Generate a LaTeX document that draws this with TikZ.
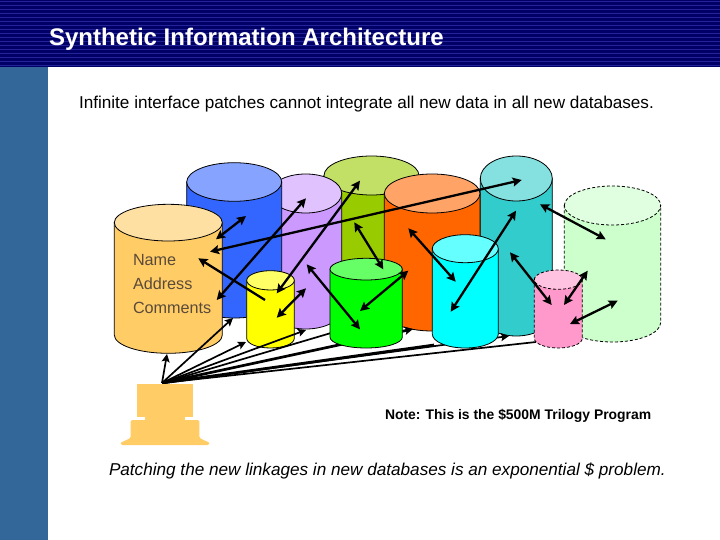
\documentclass[tikz,border=0pt]{standalone}
\usepackage{fontspec}
\setmainfont{Liberation Sans}
\usetikzlibrary{arrows.meta}
\definecolor{navy}{HTML}{000066}
\definecolor{stripe}{HTML}{24249A}
\definecolor{band}{HTML}{336699}
\definecolor{labelbrown}{HTML}{5A4A3A}
\definecolor{tanbody}{HTML}{FFCC66}\definecolor{tantop}{HTML}{FFE0A3}
\definecolor{bluebody}{HTML}{3366FF}\definecolor{bluetop}{HTML}{85A3FF}
\definecolor{purpbody}{HTML}{CC99FF}\definecolor{purptop}{HTML}{E0C2FF}
\definecolor{olivebody}{HTML}{99CC00}\definecolor{olivetop}{HTML}{C2E066}
\definecolor{orangebody}{HTML}{FF6600}\definecolor{orangetop}{HTML}{FFA366}
\definecolor{tealbody}{HTML}{33CCCC}\definecolor{tealtop}{HTML}{85E0E0}
\definecolor{palebody}{HTML}{CCFFCC}\definecolor{paletop}{HTML}{E0FFE0}
\definecolor{pinkbody}{HTML}{FF99CC}\definecolor{pinktop}{HTML}{FFC2E0}
\definecolor{cyanbody}{HTML}{00FFFF}\definecolor{cyantop}{HTML}{66FFFF}
\definecolor{greenbody}{HTML}{00FF00}\definecolor{greentop}{HTML}{66FF66}
\definecolor{yellowbody}{HTML}{FFFF00}\definecolor{yellowtop}{HTML}{FFFF66}
\tikzset{
  cylline/.style={draw=black,line width=0.8pt},
  cyldash/.style={draw=black,line width=0.8pt,dash pattern=on 3pt off 2pt},
  link/.style={draw=black,line width=2.3pt,{Stealth[length=9pt,width=9pt,inset=1.5pt]}-{Stealth[length=9pt,width=9pt,inset=1.5pt]}},
  oneway/.style={draw=black,line width=2.3pt,{Stealth[length=9pt,width=9pt,inset=1.5pt]}-},
  fan/.style={draw=black,line width=1.7pt,-{Stealth[length=8pt,width=8pt,inset=1.5pt]}},
  fanthick/.style={fan,line width=2.7pt},
  caption/.style={anchor=base west,inner sep=0pt,outer sep=0pt,text=black},
  fieldlabel/.style={anchor=base west,inner sep=0pt,outer sep=0pt,text=labelbrown,font=\fontsize{16.2}{16}\selectfont}
}
% left right top ellipse-bottom bottom body top style
\newcommand{\cylshape}[8]{%
  \pgfmathsetmacro{\cx}{(#1+#2)/2}%
  \pgfmathsetmacro{\rx}{(#2-#1)/2}%
  \pgfmathsetmacro{\ry}{(#4-#3)/2}%
  \pgfmathsetmacro{\cy}{(#3+#4)/2}%
  \pgfmathsetmacro{\by}{#5-\ry}%
  \path[#8,fill=#6] (#1,\cy) -- (#1,\by) .. controls (#1,{\by+0.5523*\ry}) and ({\cx-0.5523*\rx},#5) .. (\cx,#5) .. controls ({\cx+0.5523*\rx},#5) and (#2,{\by+0.5523*\ry}) .. (#2,\by) -- (#2,\cy) -- cycle;
  \path[#8,fill=#7] (#1,\cy) .. controls (#1,{\cy-0.5523*\ry}) and ({\cx-0.5523*\rx},#3) .. (\cx,#3) .. controls ({\cx+0.5523*\rx},#3) and (#2,{\cy-0.5523*\ry}) .. (#2,\cy) .. controls (#2,{\cy+0.5523*\ry}) and ({\cx+0.5523*\rx},#4) .. (\cx,#4) .. controls ({\cx-0.5523*\rx},#4) and (#1,{\cy+0.5523*\ry}) .. (#1,\cy) -- cycle;
}
\begin{document}
\begin{tikzpicture}[x=1pt,y=-1pt]
\useasboundingbox (0,0) rectangle (720,540);
\fill[white] (0,0) rectangle (720,540);
% header and side band
\fill[navy] (0,0) rectangle (720,67);
\foreach \s in {1,5,...,65}{\fill[stripe] (0,\s) rectangle (720,\s+1);}
\fill[band] (0,67) rectangle (48,540);
% text
\node[caption,text=white,font=\bfseries\fontsize{24}{24}\selectfont] (title) at (49,46) {Synthetic Information Architecture};
\node[caption,font=\fontsize{17.15}{17}\selectfont] (intro) at (79,109) {Infinite interface patches cannot integrate all new data in all new databases.};
% cylinders, back to front
\cylshape{324}{419}{156}{195}{310}{olivebody}{olivetop}{cylline}
\cylshape{269.7}{341.7}{174}{213}{329}{purpbody}{purptop}{cylline}
\cylshape{186.7}{281.7}{162.7}{201.3}{318}{bluebody}{bluetop}{cylline}
\cylshape{480.3}{552.3}{156}{201}{336}{tealbody}{tealtop}{cylline}
\cylshape{384.3}{480}{174}{213}{331}{orangebody}{orangetop}{cylline}
\cylshape{564.3}{660.7}{186}{225}{342}{palebody}{paletop}{cyldash}
\cylshape{114.3}{222.3}{204.3}{241}{353.3}{tanbody}{tantop}{cylline}
\cylshape{246.7}{294.3}{270.7}{290}{348}{yellowbody}{yellowtop}{cylline}
\node[fieldlabel] (fname) at (133,265) {Name};
\node[fieldlabel] (faddr) at (133,289) {Address};
\node[fieldlabel] (fcomm) at (133,313) {Comments};
% fan from the terminal
\coordinate (hub) at (162,383);
\coordinate (fTan) at (167,354);
\coordinate (fBlue) at (233,318);
\coordinate (fYellow) at (246,342);
\coordinate (fPurple) at (306,330);
\coordinate (fGreen) at (331,333);
\coordinate (fOrange) at (413,329);
\coordinate (fCyan) at (434,345);
\coordinate (fTeal) at (509,336);
\coordinate (fPink) at (536,342);
\draw[fan] (hub) -- (fTan);
\draw[fan] (hub) -- (fBlue);
\draw[fan] (hub) -- (fYellow);
\draw[fan] (hub) -- (fPurple);
\draw[fan,-] (hub) -- (fGreen);
\draw[fanthick] (hub) -- (fOrange);
\draw[fanthick,-] (hub) -- (fCyan);
\draw[fan] (hub) -- (fTeal);
\draw[fan,-] (hub) -- (fPink);
% front cylinders
\cylshape{330}{402.3}{258.3}{280}{348}{greenbody}{greentop}{cylline}
\cylshape{432.3}{498.3}{234.7}{262.7}{348}{cyanbody}{cyantop}{cylline}
\cylshape{534.3}{582.3}{270}{289.3}{348}{pinkbody}{pinktop}{cyldash}
% links between databases
\coordinate (a1) at (216,239.3); \coordinate (a2) at (246,216);
\coordinate (b1) at (210,251.7); \coordinate (b2) at (521.7,180);
\coordinate (c1) at (198.3,258.3); \coordinate (c2) at (265,300);
\coordinate (d1) at (216.7,300); \coordinate (d2) at (306,198.3);
\coordinate (e1) at (276.7,293.3); \coordinate (e2) at (360,180.7);
\coordinate (f1) at (276.7,317.7); \coordinate (f2) at (306,288.3);
\coordinate (g1) at (306.7,264.3); \coordinate (g2) at (360,329.3);
\coordinate (h1) at (354.3,222.3); \coordinate (h2) at (383.3,269.3);
\coordinate (i1) at (360,311); \coordinate (i2) at (408.3,270.7);
\coordinate (j1) at (408.3,228.3); \coordinate (j2) at (455.7,281.7);
\coordinate (k1) at (450.7,311.7); \coordinate (k2) at (516,210.7);
\coordinate (l1) at (510,252.3); \coordinate (l2) at (551.7,305);
\coordinate (m1) at (540,204.3); \coordinate (m2) at (605.7,239.3);
\coordinate (n1) at (564,305); \coordinate (n2) at (587.7,270.7);
\coordinate (o1) at (570,324); \coordinate (o2) at (617.7,300.7);
\foreach \p in {a,b,d,e,f,g,h,i,j,k,l,m,n,o}{\draw[link] (\p1) -- (\p2);}
\draw[oneway] (c1) -- (c2);
% terminal
\fill[tanbody] (137.3,384) rectangle (192.7,416.7);
\fill[tanbody] (145,416) rectangle (185,421);
\fill[tanbody,rounded corners=1.5pt] (130.7,420) -- (199.3,420) -- (199.3,438) -- (210,443) -- (209,445) -- (121,445) -- (120,443) -- (130.7,438) -- cycle;
% captions
\node[caption,font=\bfseries\fontsize{13.9}{14}\selectfont] (note) at (385,419) {Note: This is the \$500M Trilogy Program};
\node[caption,font=\itshape\fontsize{17.15}{17}\selectfont] (closing) at (109,475) {Patching the new linkages in new databases is an exponential \$ problem.};
\end{tikzpicture}
\end{document}
